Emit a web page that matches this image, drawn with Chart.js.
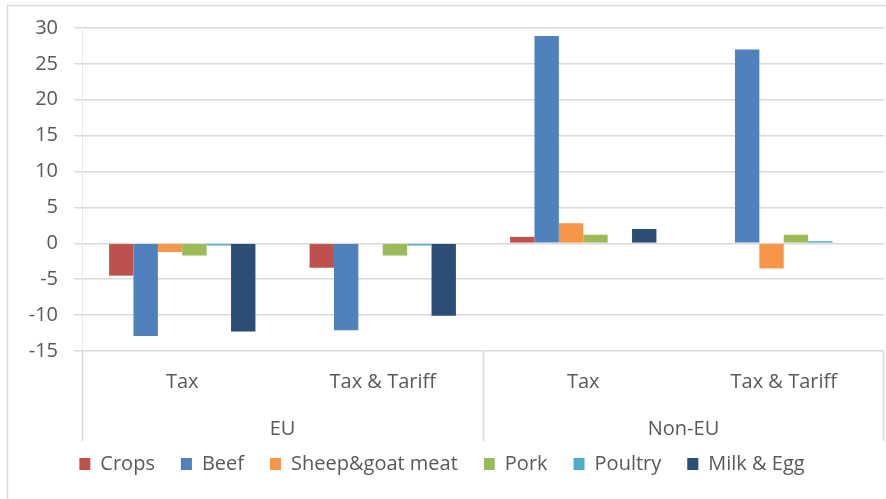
<!DOCTYPE html>
<html>
<head>
<meta charset="utf-8">
<script src="https://cdn.jsdelivr.net/npm/chart.js@4.4.1/dist/chart.umd.min.js"></script>
<style>
  html, body { margin: 0; padding: 0; background: #ffffff; }
  #wrap { width: 886px; height: 499px; position: relative; }
</style>
</head>
<body>
<div id="wrap"><canvas id="c"></canvas></div>
<script>
/* ── Data ──────────────────────────────────────────────────────────────── */

var categories = ['Tax', 'Tax & Tariff', 'Tax', 'Tax & Tariff'];
var groups     = ['EU', 'Non-EU'];   // each group spans two categories

var crops   = [-4.5,  -3.4,  0.9,  0];
var beef    = [-12.9, -12.1, 28.9, 27.0];
var sheep   = [-1.2,  0,     2.8,  -3.5];
var pork    = [-1.7,  -1.7,  1.2,  1.2];
var poultry = [-0.3,  -0.3,  0,    0.3];
var milkEgg = [-12.3, -10.1, 2.0,  0];

var FONT = "'Open Sans', 'Lato', sans-serif";
var TXT  = '#595959';
var GRID = '#d9d9d9';

/* ── Group labels, separators and outer frame ─────────────────────────── */

var groupAxis = {
  id: 'groupAxis',
  beforeDraw: function (chart) {
    var c = chart.ctx;
    c.save();
    c.strokeStyle = GRID;
    c.lineWidth = 1.5;
    c.beginPath();
    c.moveTo(7, 5.5); c.lineTo(886, 5.5);
    c.moveTo(7.5, 5); c.lineTo(7.5, 499);
    c.stroke();
    c.restore();
  },
  afterDraw: function (chart) {
    var c = chart.ctx, x = chart.scales.x, area = chart.chartArea;
    var half = (x.getPixelForValue(1) - x.getPixelForValue(0)) / 2;
    c.save();
    c.strokeStyle = GRID;
    c.lineWidth = 1.5;
    c.beginPath();
    [0, 2, 4].forEach(function (i) {
      var px = Math.round(x.getPixelForValue(i) - half) + 0.5;
      if (i === 4) px = Math.round(x.getPixelForValue(3) + half) - 0.5;
      c.moveTo(px, area.bottom);
      c.lineTo(px, area.bottom + 90);
    });
    c.stroke();

    c.fillStyle = TXT;
    c.font = '20px ' + FONT;
    c.textAlign = 'center';
    c.textBaseline = 'middle';
    groups.forEach(function (g, gi) {
      var mid = (x.getPixelForValue(gi * 2) + x.getPixelForValue(gi * 2 + 1)) / 2;
      c.fillText(g, mid, area.bottom + 78);
    });
    c.restore();
  }
};

/* ── Chart ─────────────────────────────────────────────────────────────── */

function ds(label, data, color) {
  return { label: label, data: data, backgroundColor: color, borderWidth: 0 };
}

new Chart(document.getElementById('c'), {
  type: 'bar',
  data: {
    labels: categories,
    datasets: [
      ds('Crops',            crops,   '#c0504d'),
      ds('Beef',             beef,    '#4f81bd'),
      ds('Sheep&goat meat',  sheep,   '#f79646'),
      ds('Pork',             pork,    '#9bbb59'),
      ds('Poultry',          poultry, '#4bacc6'),
      ds('Milk & Egg',       milkEgg, '#2c4d75')
    ]
  },
  plugins: [groupAxis],
  options: {
    responsive: true,
    maintainAspectRatio: false,
    animation: false,
    datasets: { bar: { barPercentage: 1, categoryPercentage: 0.73 } },
    layout: { padding: { top: 24, right: 2, bottom: 15, left: 0 } },
    scales: {
      x: {
        grid: { display: false },
        border: { display: false },
        ticks: { color: TXT, font: { family: FONT, size: 20 }, padding: 11 },
        afterFit: function (s) { s.height = 77; }
      },
      y: {
        min: -15, max: 30,
        grid: { color: GRID, lineWidth: 1.5 },
        border: { display: true, color: '#ece9e0', width: 1 },
        ticks: { stepSize: 5, color: TXT, font: { family: FONT, size: 20 }, padding: 16 },
        afterFit: function (s) { s.width = 82; }
      }
    },
    plugins: {
      legend: {
        position: 'bottom',
        labels: {
          color: TXT,
          font: { family: FONT, size: 20 },
          boxWidth: 11, boxHeight: 12,
          padding: 26
        }
      },
      tooltip: { enabled: false }
    }
  }
});
</script>
</body>
</html>
